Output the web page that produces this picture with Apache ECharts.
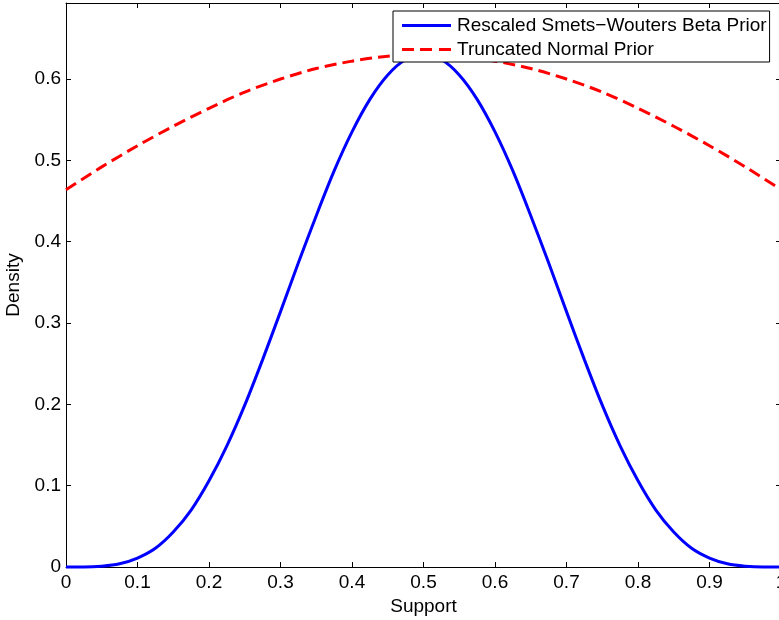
<!DOCTYPE html>
<html>
<head>
<meta charset="utf-8">
<script src="https://cdn.jsdelivr.net/npm/echarts@6/dist/echarts.min.js"></script>
<style>
html,body{margin:0;padding:0;background:#fff;}
#c{width:779px;height:620px;}
</style>
</head>
<body>
<div id="c"></div>
<script>
// Data
var betaX = [0, 0.025, 0.05, 0.075, 0.1, 0.125, 0.15, 0.175, 0.2, 0.225, 0.25, 0.275, 0.3, 0.325, 0.35, 0.375, 0.4, 0.425, 0.45, 0.475, 0.5,
             0.525, 0.55, 0.575, 0.6, 0.625, 0.65, 0.675, 0.7, 0.725, 0.75, 0.775, 0.8, 0.825, 0.85, 0.875, 0.9, 0.925, 0.95, 0.975, 1];
var betaY = [0, 0.000, 0.001, 0.004, 0.011, 0.023, 0.043, 0.070, 0.106, 0.149, 0.199, 0.255, 0.314, 0.374, 0.432, 0.487, 0.535, 0.575, 0.605, 0.624, 0.630,
             0.624, 0.605, 0.575, 0.535, 0.487, 0.432, 0.374, 0.314, 0.255, 0.199, 0.149, 0.106, 0.070, 0.043, 0.023, 0.011, 0.004, 0.001, 0.000, 0];
var normX = [0, 0.05, 0.1, 0.15, 0.2, 0.25, 0.3, 0.35, 0.4, 0.45, 0.5, 0.55, 0.6, 0.65, 0.7, 0.75, 0.8, 0.85, 0.9, 0.95, 1];
var normY = [0.464, 0.492, 0.518, 0.542, 0.564, 0.584, 0.600, 0.613, 0.622, 0.628, 0.630, 0.628, 0.622, 0.613, 0.600, 0.584, 0.564, 0.542, 0.518, 0.492, 0.464];
var seriesNames = ['Rescaled Smets\u2212Wouters Beta Prior', 'Truncated Normal Prior'];
var xTitle = 'Support';
var yTitle = 'Density';

function pairs(xs, ys) { return xs.map(function (x, i) { return [x, ys[i]]; }); }

var FONT = "'Liberation Sans', Arial, Helvetica, sans-serif";
var FS = 19;
var chart = echarts.init(document.getElementById('c'), null, { renderer: 'canvas' });

var tickStyle = { show: true, inside: true, length: 5, lineStyle: { color: '#000', width: 1 } };
var lineStyleAxis = { show: true, onZero: false, lineStyle: { color: '#000', width: 1 } };

var solidIcon = 'path://M0,0h49v3h-49z';
var dashIcon = 'path://M0,0h12v3h-12z M18,0h12v3h-12z M37,0h12v3h-12z';

chart.setOption({
  animation: false,
  backgroundColor: '#fff',
  textStyle: { fontFamily: FONT },
  grid: { left: 66, top: 3, width: 715, height: 564, containLabel: false, outerBoundsMode: 'none' },
  legend: {
    left: 393, top: 11,
    orient: 'vertical',
    padding: [5, 3, 3, 9],
    itemGap: 5,
    itemWidth: 49, itemHeight: 3,
    backgroundColor: '#fff',
    borderColor: '#000', borderWidth: 1, borderRadius: 0,
    textStyle: { fontSize: FS, color: '#000', fontFamily: FONT, padding: [0, 0, 0, 1] },
    data: [
      { name: seriesNames[0], icon: solidIcon, itemStyle: { color: '#0000ff' } },
      { name: seriesNames[1], icon: dashIcon, itemStyle: { color: '#ff0000' } }
    ]
  },
  xAxis: [{
    type: 'value', position: 'bottom', min: 0, max: 1, interval: 0.1,
    name: xTitle, nameLocation: 'middle', nameGap: 27,
    nameTextStyle: { fontSize: FS, color: '#000', fontFamily: FONT },
    axisLine: lineStyleAxis, axisTick: tickStyle,
    axisLabel: { fontSize: FS, color: '#000', margin: 6, fontFamily: FONT, hideOverlap: false },
    splitLine: { show: false }
  }, {
    type: 'value', position: 'top', min: 0, max: 1, interval: 0.1,
    axisLine: lineStyleAxis, axisTick: tickStyle,
    axisLabel: { show: false }, splitLine: { show: false }
  }],
  yAxis: [{
    type: 'value', position: 'left', min: 0, max: 0.6935, interval: 0.1,
    name: yTitle, nameLocation: 'middle', nameGap: 40,
    nameTextStyle: { fontSize: FS, color: '#000', fontFamily: FONT },
    axisLine: lineStyleAxis, axisTick: tickStyle,
    axisLabel: { fontSize: FS, color: '#000', margin: 5, fontFamily: FONT, showMaxLabel: false },
    splitLine: { show: false }
  }, {
    type: 'value', position: 'right', min: 0, max: 0.6935, interval: 0.1,
    axisLine: lineStyleAxis, axisTick: tickStyle,
    axisLabel: { show: false, showMaxLabel: false }, splitLine: { show: false }
  }],
  series: [{
    name: seriesNames[0], type: 'line', xAxisIndex: 0, yAxisIndex: 0,
    data: pairs(betaX, betaY), smooth: 0.3, symbol: 'none', clip: false,
    lineStyle: { color: '#0000ff', width: 3 }, itemStyle: { color: '#0000ff' }, z: 2
  }, {
    name: seriesNames[1], type: 'line', xAxisIndex: 0, yAxisIndex: 0,
    data: pairs(normX, normY), smooth: 0.3, symbol: 'none', clip: false,
    lineStyle: { color: '#ff0000', width: 3, type: [12, 6] }, itemStyle: { color: '#ff0000' }, z: 3
  }]
});
</script>
</body>
</html>
